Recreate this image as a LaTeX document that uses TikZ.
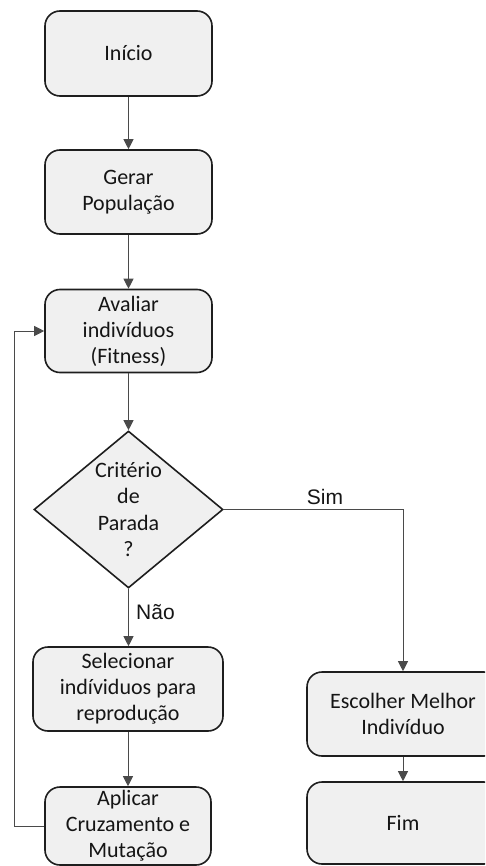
\documentclass[tikz,border=0pt]{standalone}
\usepackage{fontspec}
\setmainfont{Carlito}
\newfontfamily\arialfont{Liberation Sans}
\usetikzlibrary{arrows.meta,shapes.geometric}
\definecolor{boxfill}{HTML}{F0F0F0}
\definecolor{boxline}{HTML}{1E1E1E}
\definecolor{wire}{HTML}{4A4A4A}
\definecolor{ink}{HTML}{151515}
\begin{document}
\begin{tikzpicture}[x=1pt,y=-1pt,
  stepbox/.style={draw=boxline, line width=1.6pt, fill=boxfill, rounded corners=15pt,
    align=center, inner sep=0pt, text=ink, font=\fontsize{22}{26}\selectfont},
  decision/.style={draw=boxline, line width=1.6pt, fill=boxfill, diamond,
    inner sep=0pt, minimum width=189pt, minimum height=157pt},
  flow/.style={draw=wire, line width=1pt, -{Triangle[width=10pt,length=10pt]}},
  answer/.style={font=\arialfont\fontsize{21}{25}\selectfont, text=ink, inner sep=0pt}]
\useasboundingbox (0,0) rectangle (485,866);
\clip (0,0) rectangle (485,866);

% main column
\node[stepbox, minimum width=167pt, minimum height=85pt] (inicio) at (128.5,53.5) {Início};
\node[stepbox, minimum width=167pt, minimum height=84pt] (gerar) at (128.5,192) {Gerar\\População};
\node[stepbox, minimum width=167pt, minimum height=83pt] (avaliar) at (128.5,331) {Avaliar\\indivíduos\\(Fitness)};
\node[decision] (crit) at (128.5,509.5) {};
\node[align=center, inner sep=0pt, text=ink, font=\fontsize{22}{26.5}\selectfont] (critt) at (crit.center) {Critério\\de\\Parada\\?};
\node[stepbox, minimum width=190pt, minimum height=84pt] (selec) at (128,689) {Selecionar\\indíviduos para\\reprodução};
\node[stepbox, minimum width=166pt, minimum height=78pt] (aplicar) at (128,826) {Aplicar\\Cruzamento e\\Mutação};

% exit column
\node[stepbox, minimum width=192pt, minimum height=84pt] (escolher) at (403,714) {Escolher Melhor\\Indivíduo};
\node[stepbox, minimum width=192pt, minimum height=82pt] (fim) at (403,823) {Fim};

% connectors
\draw[flow] (inicio) -- (gerar);
\draw[flow] (gerar) -- (avaliar);
\draw[flow] (avaliar) -- (crit);
\draw[flow] (crit.south) -- (crit.south |- selec.north);
\draw[flow] (selec) -- (aplicar);
\draw[flow] (crit.east) -| (escolher.north);
\draw[flow] (escolher) -- (fim);
\coordinate (loop) at (14,0);
\draw[flow] (aplicar.west) -- (loop |- aplicar.west) -- (loop |- avaliar.west) -- (avaliar.west);

% branch labels
\node[answer] (sim) at (325,497) {Sim};
\node[answer, anchor=west] (nao) at (136,612) {Não};
\end{tikzpicture}
\end{document}
